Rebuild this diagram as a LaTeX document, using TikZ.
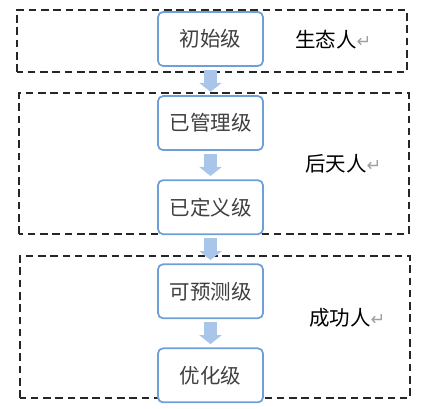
\documentclass[tikz,border=0pt]{standalone}
\usepackage{fontspec}
\setmainfont{Noto Sans CJK SC}
\newfontfamily\marksym{DejaVu Sans}
\usetikzlibrary{positioning,arrows.meta}
\usepackage{xcolor}
\definecolor{boxblue}{HTML}{6F9FD8}
\definecolor{arrowblue}{HTML}{A9C5EA}
\definecolor{textgray}{HTML}{404040}
\definecolor{markgray}{HTML}{A0A0A0}

\begin{document}
\begin{tikzpicture}[
    levelbox/.style={draw=boxblue, line width=1.5pt, rounded corners=0.15cm, fill=white,
        minimum width=3.15cm, minimum height=1.62cm, text=textgray,
        font=\fontsize{17.5}{20}\selectfont},
    groupframe/.style={draw=black!85, line width=0.9pt, dash pattern=on 6.5pt off 4pt},
    flowarrow/.style={arrowblue, line width=0.4cm, -{Triangle[width=0.66cm,length=0.27cm]},
        shorten <=0.1cm, shorten >=0.1cm},
    sidelabel/.style={anchor=west, inner sep=0pt, font=\fontsize{17.5}{20}\selectfont}
]
\useasboundingbox (0,0) rectangle (12.99,12.27);

% dashed frames round the groups
\draw[groupframe] (0.51,10.11) rectangle (12.21,11.97);
\draw[groupframe] (0.57,5.25) rectangle (12.27,9.48);
\draw[groupframe] (0.60,0.33) rectangle (12.30,4.59);

% the five levels
\node[levelbox] (initial) at (6.315,11.1) {初始级};
\node[levelbox, below=0.85cm of initial] (managed) {已管理级};
\node[levelbox, below=0.85cm of managed] (defined) {已定义级};
\node[levelbox, below=0.85cm of defined] (predictable) {可预测级};
\node[levelbox, below=0.85cm of predictable] (optimizing) {优化级};

% block arrows between levels
\draw[flowarrow] (initial) -- (managed);
\draw[flowarrow] (managed) -- (defined);
\draw[flowarrow] (defined) -- (predictable);
\draw[flowarrow] (predictable) -- (optimizing);

% group names
\node[sidelabel] (natural) at (8.85,11.07) {生态人{\marksym\color{markgray}\fontsize{15}{17}\selectfont ↵}};
\node[sidelabel] (acquired) at (9.15,7.35) {后天人{\marksym\color{markgray}\fontsize{15}{17}\selectfont ↵}};
\node[sidelabel] (success) at (9.27,2.73) {成功人{\marksym\color{markgray}\fontsize{15}{17}\selectfont ↵}};
\end{tikzpicture}
\end{document}
